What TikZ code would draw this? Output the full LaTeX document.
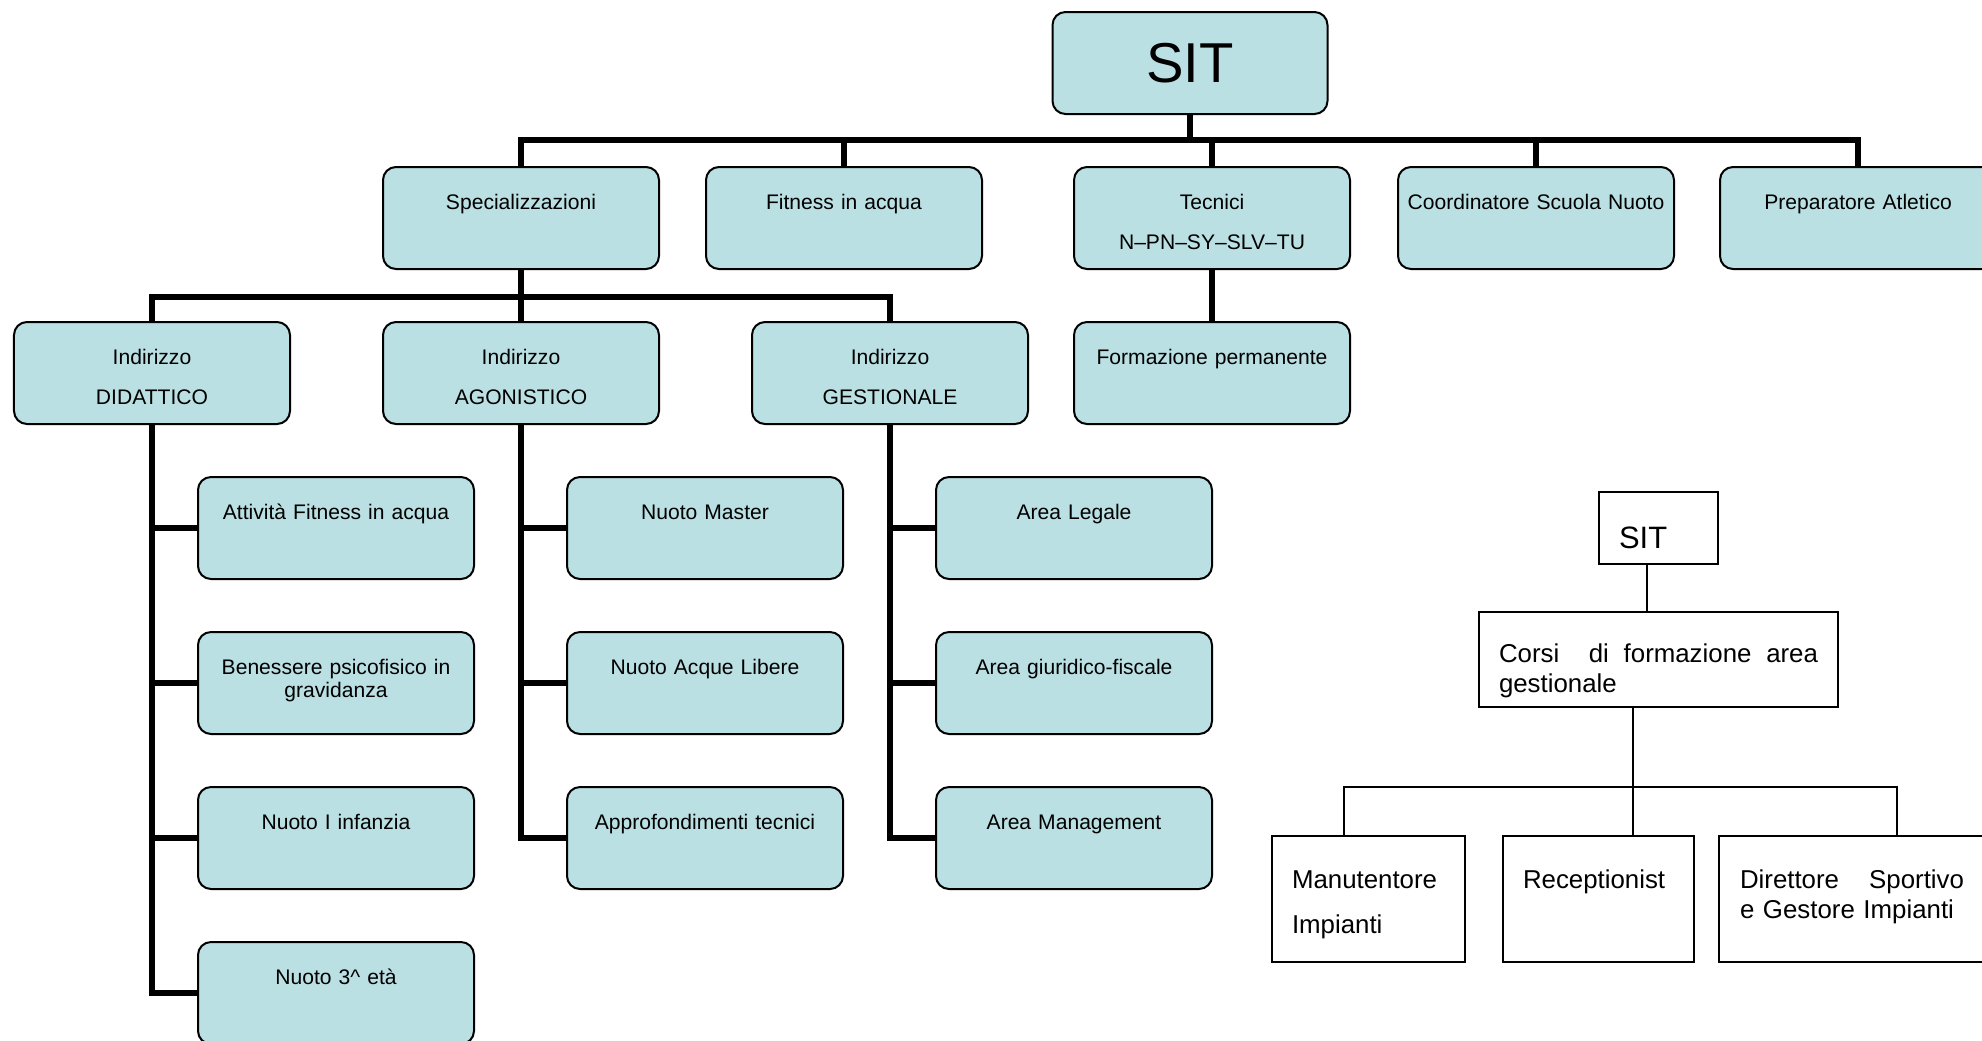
\documentclass[tikz,border=0pt]{standalone}
\usepackage{fontspec}
\setmainfont{Liberation Sans}
\definecolor{boxfill}{RGB}{186,224,227}

\begin{document}
\begin{tikzpicture}[node distance=3.1cm,
  main link/.style={line width=0.12cm},
  plain link/.style={line width=0.034cm},
  top node/.style={rectangle,rounded corners=0.26cm,draw,fill=boxfill,
    line width=0.04cm,font=\fontsize{32}{36}\selectfont,
    minimum width=5.5cm,minimum height=2.04cm},
  main node/.style={rectangle,rounded corners=0.26cm,draw,fill=boxfill,
    line width=0.04cm,font=\fontsize{12}{13.5}\selectfont,
    minimum width=5.52cm,minimum height=2.04cm,inner xsep=0.11cm,inner ysep=0pt,
    text width=5.3cm,align=center,text height=0.84cm,text depth=1.2cm},
  plain node/.style={rectangle,draw,line width=0.034cm,
    font=\fontsize{14.7}{17.5}\selectfont,inner xsep=0.4cm,inner ysep=0pt,
    align=left},
  low node/.style={plain node,minimum height=2.52cm,
    text height=1.04cm,text depth=1.48cm}]

  \useasboundingbox (0,0) rectangle (39.64,-20.8);

  % main chart
  \node[top node] (SIT) at (23.8,-1.26) {SIT};
  \node[main node] (SPEC) at (10.42,-4.36) {Specializzazioni};
  \node[main node] (FIT) [node distance=6.46cm, right of=SPEC] {Fitness in acqua};
  \node[main node] (TEC) [node distance=7.36cm, right of=FIT] {Tecnici\\[9.5pt]N--PN--SY--SLV--TU};
  \node[main node] (COORD) [node distance=6.48cm, right of=TEC] {Coordinatore Scuola Nuoto};
  \node[main node] (PREP) [node distance=6.44cm, right of=COORD] {Preparatore Atletico};

  \node[main node] (AGO) [below of=SPEC] {Indirizzo\\[9.5pt]AGONISTICO};
  \node[main node] (DID) [node distance=7.38cm, left of=AGO] {Indirizzo\\[9.5pt]DIDATTICO};
  \node[main node] (GES) [node distance=7.38cm, right of=AGO] {Indirizzo\\[9.5pt]GESTIONALE};
  \node[main node] (FORM) [below of=TEC] {Formazione permanente};

  \node[main node] (ATT) [below of=DID, xshift=3.68cm] {Attività Fitness in acqua};
  \node[main node] (BEN) [below of=ATT] {Benessere psicofisico in\\gravidanza};
  \node[main node] (INF) [below of=BEN] {Nuoto I infanzia};
  \node[main node] (TERZA) [below of=INF] {Nuoto 3\textasciicircum{} età};

  \node[main node] (MASTER) [below of=AGO, xshift=3.68cm] {Nuoto Master};
  \node[main node] (LIBERE) [below of=MASTER] {Nuoto Acque Libere};
  \node[main node] (APPR) [below of=LIBERE] {Approfondimenti tecnici};

  \node[main node] (LEGALE) [below of=GES, xshift=3.68cm] {Area Legale};
  \node[main node] (FISC) [below of=LEGALE] {Area giuridico-fiscale};
  \node[main node] (MANAG) [below of=FISC] {Area Management};

  \coordinate (BUSA) at (23.8,-2.8);
  \coordinate (BUSC) at (10.42,-5.94);

  \draw[main link] (SIT) -- (BUSA);
  \draw[main link] (SPEC.north) |- (BUSA) -| (PREP.north);
  \draw[main link] (FIT) -- (FIT |- BUSA);
  \draw[main link] (TEC) -- (TEC |- BUSA);
  \draw[main link] (COORD) -- (COORD |- BUSA);
  \draw[main link] (TEC) -- (FORM);

  \draw[main link] (SPEC) -- (BUSC);
  \draw[main link] (DID.north) |- (BUSC) -| (GES.north);
  \draw[main link] (AGO) -- (AGO |- BUSC);

  \draw[main link] (DID.south) |- (TERZA.west);
  \draw[main link] (DID.south |- ATT.west) -- (ATT.west);
  \draw[main link] (DID.south |- BEN.west) -- (BEN.west);
  \draw[main link] (DID.south |- INF.west) -- (INF.west);

  \draw[main link] (AGO.south) |- (APPR.west);
  \draw[main link] (AGO.south |- MASTER.west) -- (MASTER.west);
  \draw[main link] (AGO.south |- LIBERE.west) -- (LIBERE.west);

  \draw[main link] (GES.south) |- (MANAG.west);
  \draw[main link] (GES.south |- LEGALE.west) -- (LEGALE.west);
  \draw[main link] (GES.south |- FISC.west) -- (FISC.west);

  % training courses
  \node[plain node, font=\fontsize{17.6}{20}\selectfont, minimum width=2.38cm,
    minimum height=1.44cm, text width=1.58cm, text height=1.12cm, text depth=0.32cm]
    (SITB) at (33.17,-10.56) {SIT};
  \node[plain node, minimum width=7.18cm, minimum height=1.9cm, text width=6.38cm,
    text height=1.0cm, text depth=0.9cm] (CORSI) [node distance=2.63cm, below of=SITB]
    {Corsi\hfill\hfill di\hfill formazione\hfill area\\gestionale};
  \node[low node, minimum width=3.86cm, text width=3.06cm] (MAN) at (27.37,-17.98)
    {Manutentore\\[8.5pt]Impianti};
  \node[low node, minimum width=3.82cm, text width=3.02cm] (REC) at (31.97,-17.98)
    {Receptionist};
  \node[low node, minimum width=5.32cm, text width=4.48cm] (DIR) at (37.04,-17.98)
    {Direttore\hfill Sportivo\\e Gestore Impianti};

  \coordinate (BUSB) at (32.66,-15.74);

  \draw[plain link] ([xshift=-0.23cm]SITB.south) -- ([xshift=-0.23cm]SITB.south |- CORSI.north);
  \draw[plain link] ([xshift=-0.51cm]CORSI.south) -- ([xshift=-0.51cm]CORSI.south |- REC.north);
  \draw[plain link] ([xshift=-0.49cm]MAN.north) |- (BUSB) -| ([xshift=0.9cm]DIR.north);
\end{tikzpicture}
\end{document}
